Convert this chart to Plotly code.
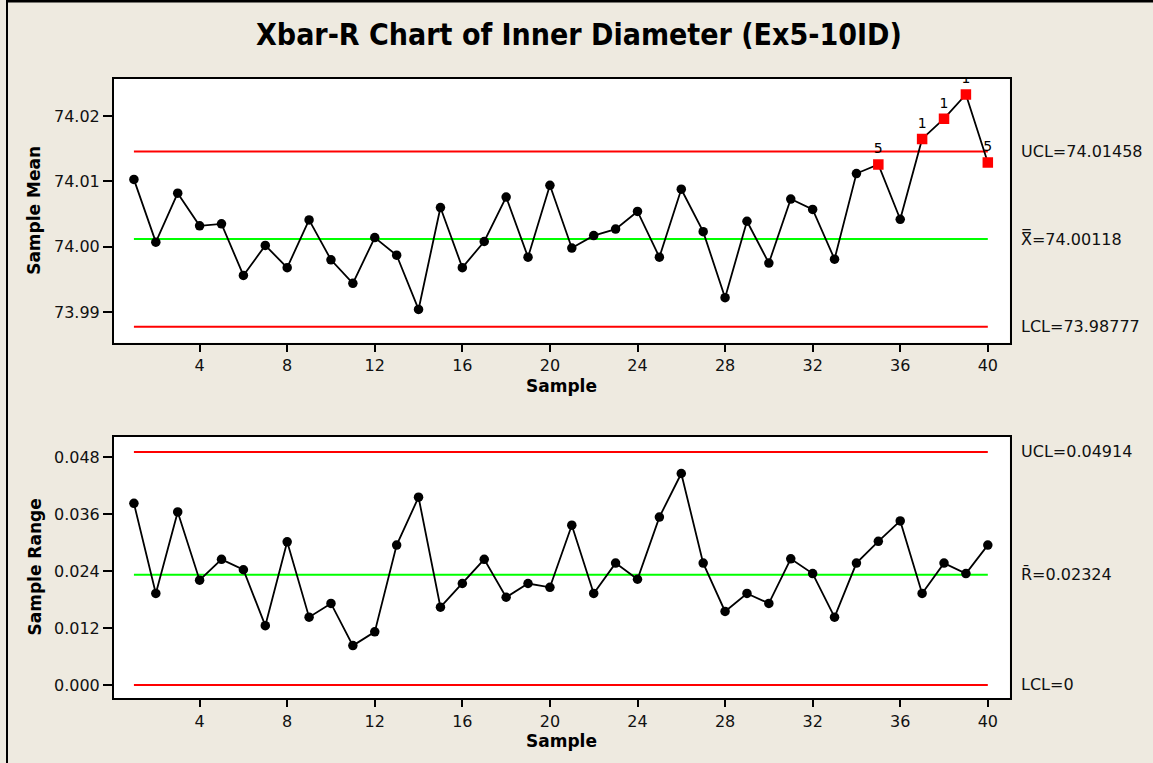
import plotly.graph_objects as go

# Inner diameter subgroups: sample means and ranges
samples = list(range(1, 41))
sample_means = [
    74.0103, 74.0007, 74.0082, 74.0032, 74.0035, 73.9956, 74.0002, 73.9968,
    74.0041, 73.9980, 73.9944, 74.0014, 73.9987, 73.9904, 74.0060, 73.9968,
    74.0008, 74.0076, 73.9984, 74.0094, 73.9998, 74.0017, 74.0027, 74.0054,
    73.9984, 74.0088, 74.0023, 73.9922, 74.0039, 73.9975, 74.0073, 74.0057,
    73.9981, 74.0112, 74.0126, 74.0042, 74.0165, 74.0196, 74.0233, 74.0129,
]
sample_ranges = [
    0.0383, 0.0193, 0.0365, 0.0221, 0.0265, 0.0243, 0.0125, 0.0302,
    0.0143, 0.0172, 0.0083, 0.0112, 0.0295, 0.0396, 0.0164, 0.0214,
    0.0265, 0.0185, 0.0214, 0.0206, 0.0337, 0.0193, 0.0257, 0.0223,
    0.0354, 0.0446, 0.0257, 0.0155, 0.0193, 0.0172, 0.0266, 0.0235,
    0.0143, 0.0257, 0.0303, 0.0346, 0.0193, 0.0257, 0.0235, 0.0295,
]

# Control limits
xbar_ucl, xbar_center, xbar_lcl = 74.01458, 74.00118, 73.98777
r_ucl, r_center, r_lcl = 0.04914, 0.02324, 0.0

# Samples flagged by the Xbar chart tests, with the failed test number
signal_samples = [35, 37, 38, 39, 40]
signal_tests = ["5", "1", "1", "1", "5"]

xbar_ticks = [73.99, 74.00, 74.01, 74.02]
r_ticks = [0.000, 0.012, 0.024, 0.036, 0.048]
x_ticks = list(range(4, 41, 4))

BG = "#EEEAE0"
FONT = "DejaVu Sans, Verdana, sans-serif"
W, H = 1153, 763

fig = go.Figure()

def add_chart(values, center, ucl, lcl, xa, ya, flagged):
    first, last = samples[0], samples[-1]
    for level, color in ((ucl, "#FF0000"), (lcl, "#FF0000"), (center, "#00FF00")):
        fig.add_trace(go.Scatter(
            x=[first, last], y=[level, level], mode="lines",
            line=dict(color=color, width=2), xaxis=xa, yaxis=ya,
            hoverinfo="skip", showlegend=False))
    fig.add_trace(go.Scatter(
        x=samples, y=values, mode="lines",
        line=dict(color="black", width=1.8), xaxis=xa, yaxis=ya,
        showlegend=False))
    normal = [(s, v) for s, v in zip(samples, values) if s not in flagged]
    fig.add_trace(go.Scatter(
        x=[s for s, _ in normal], y=[v for _, v in normal], mode="markers",
        marker=dict(color="black", size=9.5, symbol="circle"),
        xaxis=xa, yaxis=ya, showlegend=False))

add_chart(sample_means, xbar_center, xbar_ucl, xbar_lcl, "x", "y", signal_samples)
add_chart(sample_ranges, r_center, r_ucl, r_lcl, "x2", "y2", [])

fig.add_trace(go.Scatter(
    x=signal_samples,
    y=[sample_means[s - 1] for s in signal_samples],
    mode="markers+text", text=signal_tests, textposition="top center",
    textfont=dict(family=FONT, size=14, color="black"),
    marker=dict(color="#FF0000", size=10.5, symbol="square"),
    xaxis="x", yaxis="y", showlegend=False))

x_dom = [114 / W, 1009.7 / W]
top_dom = [1 - 342.7 / H, 1 - 79 / H]
bot_dom = [1 - 698.3 / H, 1 - 436.7 / H]

def axis_style(ticklen):
    return dict(
        showline=True, linecolor="black", linewidth=2, mirror=True,
        showgrid=False, zeroline=False, ticks="outside", ticklen=ticklen,
        tickwidth=1.5, tickcolor="black",
        tickfont=dict(family=FONT, size=16, color="#111111"),
    )

fig.update_layout(
    width=W, height=H,
    margin=dict(l=0, r=0, t=0, b=0),
    paper_bgcolor=BG, plot_bgcolor="white",
    showlegend=False,
    xaxis=dict(domain=x_dom, anchor="y", range=[0.09, 41.0],
               tickvals=x_ticks, **axis_style(7)),
    yaxis=dict(domain=top_dom, anchor="x", range=[73.98531, 74.02567],
               tickvals=xbar_ticks, tickformat=".2f", **axis_style(9)),
    xaxis2=dict(domain=x_dom, anchor="y2", range=[0.09, 41.0],
                tickvals=x_ticks, **axis_style(7)),
    yaxis2=dict(domain=bot_dom, anchor="x2", range=[-0.00281, 0.05236],
                tickvals=r_ticks, tickformat=".3f", **axis_style(9)),
)

annotations = [
    dict(text="<b>Xbar-R Chart of Inner Diameter (Ex5-10ID)</b>",
         x=579 / W, y=1 - 34 / H, xref="paper", yref="paper",
         showarrow=False, xanchor="center", yanchor="middle",
         font=dict(family="Liberation Sans Narrow, Arial Narrow, DejaVu Sans Condensed, DejaVu Sans, sans-serif",
                   size=30, color="black")),
    dict(text="<b>Sample Mean</b>", x=34 / W, y=sum(top_dom) / 2,
         xref="paper", yref="paper", textangle=-90, showarrow=False,
         xanchor="center", yanchor="middle",
         font=dict(family=FONT, size=17, color="black")),
    dict(text="<b>Sample Range</b>", x=34 / W, y=sum(bot_dom) / 2,
         xref="paper", yref="paper", textangle=-90, showarrow=False,
         xanchor="center", yanchor="middle",
         font=dict(family=FONT, size=17, color="black")),
    dict(text="<b>Sample</b>", x=sum(x_dom) / 2, y=1 - 386 / H,
         xref="paper", yref="paper", showarrow=False,
         xanchor="center", yanchor="middle",
         font=dict(family=FONT, size=17, color="black")),
    dict(text="<b>Sample</b>", x=sum(x_dom) / 2, y=1 - 741 / H,
         xref="paper", yref="paper", showarrow=False,
         xanchor="center", yanchor="middle",
         font=dict(family=FONT, size=17, color="black")),
]

limit_labels = [
    ("y", xbar_ucl, f"UCL={xbar_ucl:.5f}"),
    ("y", xbar_center, f"X\u033F={xbar_center:.5f}"),
    ("y", xbar_lcl, f"LCL={xbar_lcl:.5f}"),
    ("y2", r_ucl, f"UCL={r_ucl:.5f}"),
    ("y2", r_center, f"R\u0304={r_center:.5f}"),
    ("y2", r_lcl, f"LCL={r_lcl:g}"),
]
for yref, level, label in limit_labels:
    annotations.append(dict(
        text=label, x=x_dom[1], y=level, xref="paper", yref=yref,
        xanchor="left", yanchor="middle", xshift=9, showarrow=False,
        font=dict(family=FONT, size=16, color="#111111")))

fig.update_layout(annotations=annotations)

# Outer frame edges along the top and left
fig.update_layout(shapes=[
    dict(type="line", xref="paper", yref="paper", x0=7 / W, x1=7 / W,
         y0=0, y1=1, line=dict(color="black", width=2)),
    dict(type="line", xref="paper", yref="paper", x0=7 / W, x1=1,
         y0=1 - 1 / H, y1=1 - 1 / H, line=dict(color="black", width=3)),
])

fig.write_html("out.html")
